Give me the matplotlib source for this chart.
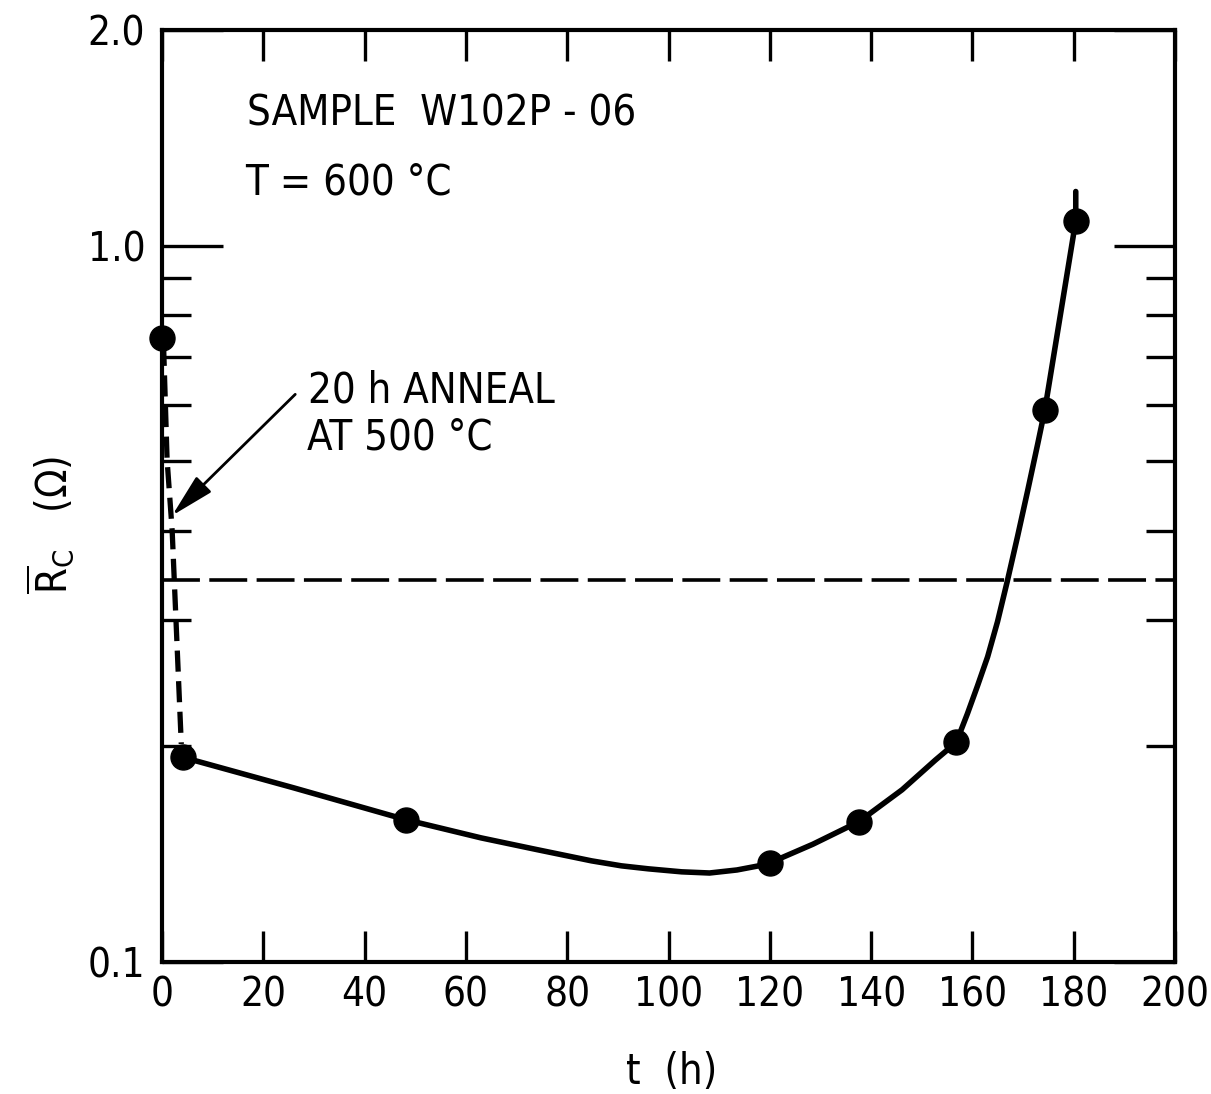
import matplotlib
matplotlib.use("Agg")
import matplotlib.pyplot as plt
from matplotlib.ticker import FixedLocator, NullFormatter

plt.rcParams['font.family'] = ['DejaVu Sans']
plt.rcParams['font.stretch'] = 'condensed'
plt.rcParams['mathtext.fontset'] = 'dejavusans'

# measured points
t_pts = [0.0, 4.2, 48.1, 120.0, 137.6, 156.8, 174.3, 180.4]
r_pts = [0.744, 0.193, 0.158, 0.1375, 0.157, 0.2025, 0.590, 1.083]

# hand-drawn fit curve
t_curve = [4.2, 26.0, 48.1, 63.0, 74.0, 84.8, 90.7, 96.0, 102.6, 108.1, 113.5,
           117.8, 120.0, 128.5, 137.6, 146.1, 152.7, 156.8, 159.0, 161.0, 163.0,
           164.95, 166.9, 168.9, 170.9, 172.9, 174.3, 180.4, 180.4]
r_curve = [0.193, 0.175, 0.158, 0.149, 0.1435, 0.1384, 0.1362, 0.1349, 0.1336, 0.1331,
           0.1344, 0.1362, 0.1375, 0.146, 0.157, 0.1739, 0.1914, 0.2025, 0.2220,
           0.2429, 0.2667, 0.2985, 0.3404, 0.3924, 0.4547, 0.5291, 0.590, 1.083, 1.19]

# dashed anneal drop
t_drop = [0.3, 1.0, 2.0, 3.8]
r_drop = [0.727, 0.502, 0.40, 0.2015]

limit_r = 0.341

x_ticks = [0, 20, 40, 60, 80, 100, 120, 140, 160, 180, 200]
y_major = [0.1, 1.0, 2.0]
y_major_labels = ['0.1', '1.0', '2.0']
y_minor = [0.2, 0.3, 0.4, 0.5, 0.6, 0.7, 0.8, 0.9]

fig = plt.figure(figsize=(12.11, 10.94), dpi=100)
ax = fig.add_axes([0.1338, 0.1207, 0.8365, 0.8519])

ax.set_yscale('log')
ax.set_xlim(0, 200)
ax.set_ylim(0.1, 2.0)

ax.axhline(limit_r, color='black', lw=2.6, dashes=(10.5, 2.6))
ax.plot(t_drop, r_drop, color='black', lw=3.8, dashes=(4, 1.8), clip_on=False)
ax.plot(t_curve, r_curve, color='black', lw=4.0, solid_capstyle='round',
        solid_joinstyle='round')
ax.plot(t_pts, r_pts, 'o', color='black', ms=18, clip_on=False, zorder=5)

for s in ax.spines.values():
    s.set_linewidth(3.0)

ax.set_xticks(x_ticks)
ax.set_xticklabels([str(v) for v in x_ticks])
ax.yaxis.set_major_locator(FixedLocator(y_major))
ax.set_yticklabels(y_major_labels)
ax.yaxis.set_minor_locator(FixedLocator(y_minor))
ax.yaxis.set_minor_formatter(NullFormatter())
ax.xaxis.set_minor_locator(FixedLocator([]))

ax.tick_params(axis='x', which='major', direction='in', length=22, width=2.4,
               top=True, bottom=True, labelsize=29, pad=10)
ax.tick_params(axis='y', which='major', direction='in', length=44, width=2.4,
               left=True, right=True, labelsize=29, pad=12)
ax.tick_params(axis='y', which='minor', direction='in', length=21, width=2.4,
               left=True, right=True)

tx = ax.transAxes
ax.text(0.084, 0.898, 'SAMPLE  W102P - 06', transform=tx, fontsize=30,
        va='baseline', ha='left')
ax.text(0.082, 0.824, 'T = 600 °C', transform=tx, fontsize=30,
        va='baseline', ha='left')
ax.text(0.144, 0.5998, '20 h ANNEAL', transform=tx, fontsize=30,
        va='baseline', ha='left')
ax.text(0.143, 0.5494, 'AT 500 °C', transform=tx, fontsize=30,
        va='baseline', ha='left')

ax.annotate('', xy=(2.0, 0.42), xytext=(26.3, 0.62),
            arrowprops=dict(arrowstyle='-|>,head_length=0.9,head_width=0.22',
                            lw=2.0, color='black', shrinkA=0, shrinkB=0,
                            mutation_scale=30))

fig.text(672 / 1211, 1 - 1072 / 1094, 't  (h)', fontsize=30,
         ha='center', va='center')

fig.text(50 / 1211, 1 - 525 / 1094,
         r'$\overline{\mathrm{R}}_{\mathrm{C}}$   ($\mathit{\Omega}$)',
         fontsize=30, rotation=90, ha='center', va='center')

fig.savefig('out.png', dpi=100)
